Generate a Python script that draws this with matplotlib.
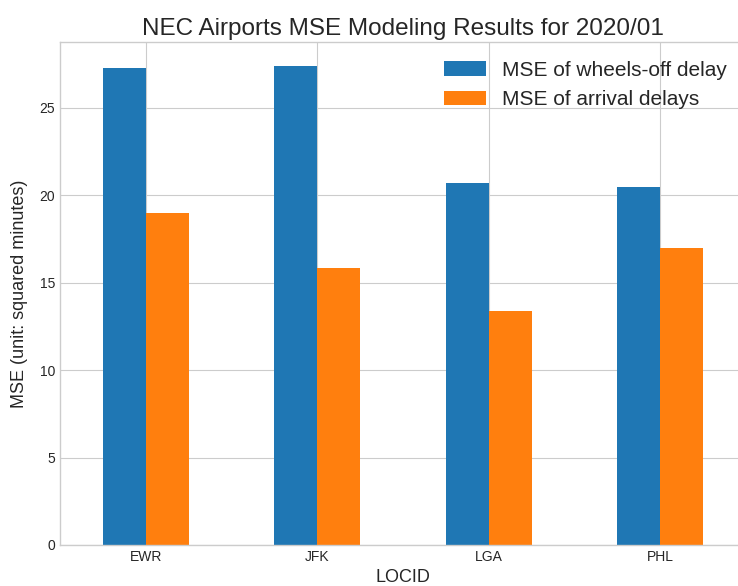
import pandas as pd
import matplotlib
matplotlib.use("Agg")
from matplotlib import pyplot as plt

plt.style.use("seaborn-v0_8-whitegrid")
plt.rcParams['font.family'] = ['Liberation Sans', 'DejaVu Sans']

locid = ["EWR", "JFK", "LGA", "PHL"]
mse_wheels_off = [27.3, 27.4, 20.7, 20.5]
mse_arrival = [19.0, 15.85, 13.4, 17.0]

df = pd.DataFrame({"MSE of wheels-off delay": mse_wheels_off,
                   "MSE of arrival delays": mse_arrival},
                  index=pd.Index(locid, name="LOCID"))

fig = plt.figure(figsize=(7.38, 5.86), dpi=100)
# the original image is cropped on the right, so the axes runs past the edge
ax = fig.add_axes([60/738, 41/586, 686/738, 503/586])
df.plot.bar(ax=ax, rot=0, color=["#1f77b4", "#ff7f0e"], fontsize=10)
ax.spines['right'].set_visible(False)

ax.set_title("NEC Airports MSE Modeling Results for 2020/01", fontsize=17.5, pad=5)
ax.set_xlabel("LOCID", fontsize=13)
ax.set_ylabel("MSE (unit: squared minutes)", fontsize=13, labelpad=8)
ax.legend(loc="upper right", fontsize=15)

fig.savefig("out.png", dpi=100)
